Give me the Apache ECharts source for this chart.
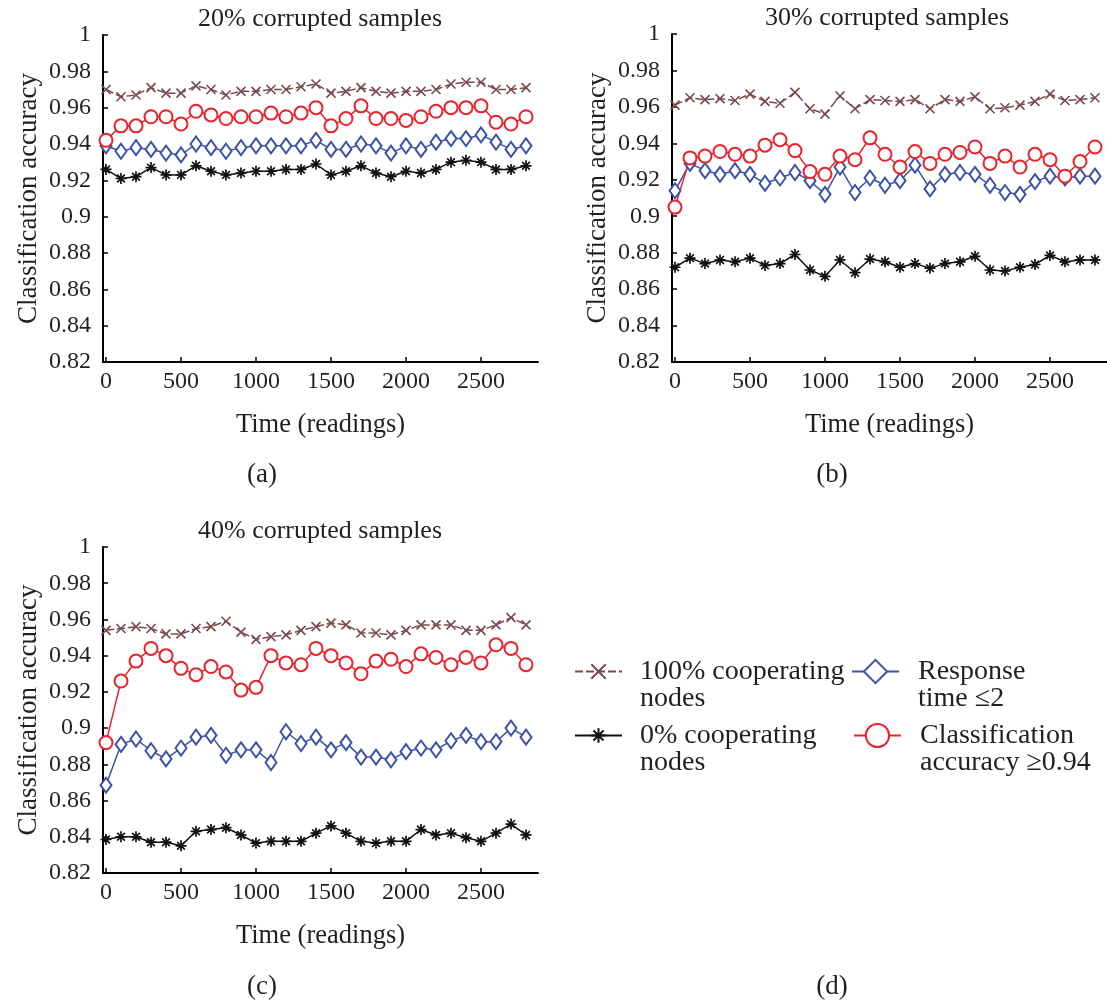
<!DOCTYPE html>
<html><head><meta charset="utf-8">
<script src="https://cdn.jsdelivr.net/npm/echarts@6/dist/echarts.min.js"></script>
<style>html,body{margin:0;padding:0;background:#fff}#c{width:1107px;height:1000px}</style>
</head><body><div id="c"></div>
<script>
const times = [0,100,200,300,400,500,600,700,800,900,1000,1100,1200,1300,1400,1500,1600,1700,1800,1900,2000,2100,2200,2300,2400,2500,2600,2700,2800];
const xTicks = [0,500,1000,1500,2000,2500];
const seriesNames = ['100% cooperating\nnodes','0% cooperating\nnodes','Response\ntime \u22642','Classification\naccuracy \u22650.94'];
const panelTitles = ['20% corrupted samples','30% corrupted samples','40% corrupted samples'];

// (a) 20% corrupted samples
const a_full = [0.970,0.966,0.967,0.971,0.968,0.968,0.972,0.970,0.967,0.969,0.969,0.970,0.970,0.9715,0.973,0.968,0.969,0.971,0.969,0.968,0.969,0.969,0.970,0.973,0.974,0.974,0.970,0.970,0.971];
const a_zero = [0.926,0.921,0.922,0.927,0.923,0.923,0.928,0.925,0.923,0.924,0.925,0.925,0.926,0.926,0.929,0.923,0.925,0.928,0.924,0.922,0.925,0.924,0.926,0.930,0.931,0.930,0.926,0.926,0.928];
const a_resp = [0.939,0.936,0.938,0.937,0.935,0.934,0.940,0.938,0.936,0.938,0.939,0.939,0.939,0.939,0.942,0.937,0.937,0.940,0.939,0.935,0.939,0.937,0.941,0.943,0.943,0.945,0.941,0.937,0.939];
const a_acc  = [0.942,0.950,0.950,0.955,0.955,0.951,0.958,0.956,0.954,0.955,0.955,0.957,0.955,0.957,0.960,0.950,0.954,0.961,0.954,0.954,0.953,0.955,0.958,0.960,0.960,0.961,0.952,0.951,0.955];

// (b) 30% corrupted samples
const b_full = [0.961,0.965,0.964,0.9645,0.9635,0.967,0.963,0.962,0.968,0.959,0.956,0.966,0.959,0.964,0.9635,0.963,0.964,0.959,0.964,0.963,0.9655,0.959,0.9595,0.961,0.963,0.967,0.9635,0.964,0.965];
const b_zero = [0.872,0.877,0.874,0.876,0.875,0.877,0.873,0.874,0.879,0.8705,0.867,0.876,0.869,0.8765,0.875,0.872,0.874,0.8715,0.874,0.875,0.878,0.8705,0.870,0.872,0.8735,0.8785,0.875,0.876,0.876];
const b_resp = [0.914,0.929,0.925,0.923,0.925,0.923,0.918,0.921,0.924,0.9195,0.912,0.927,0.913,0.921,0.917,0.9195,0.928,0.915,0.923,0.924,0.923,0.917,0.913,0.912,0.919,0.922,0.921,0.922,0.922];
const b_acc  = [0.905,0.932,0.933,0.9355,0.934,0.933,0.939,0.942,0.936,0.9245,0.923,0.933,0.931,0.943,0.934,0.927,0.9355,0.929,0.934,0.935,0.938,0.929,0.933,0.927,0.934,0.931,0.922,0.930,0.938];

// (c) 40% corrupted samples
const c_full = [0.954,0.955,0.956,0.955,0.952,0.952,0.955,0.956,0.959,0.953,0.949,0.9505,0.9515,0.954,0.956,0.958,0.957,0.9525,0.9525,0.9515,0.954,0.957,0.957,0.957,0.954,0.954,0.957,0.961,0.957];
const c_zero = [0.8385,0.840,0.840,0.837,0.837,0.835,0.843,0.844,0.845,0.841,0.8365,0.8375,0.8375,0.8375,0.842,0.846,0.842,0.8375,0.8365,0.8375,0.8375,0.844,0.841,0.842,0.8395,0.8375,0.842,0.847,0.841];
const c_resp = [0.8685,0.891,0.894,0.8875,0.883,0.889,0.895,0.896,0.885,0.888,0.888,0.881,0.898,0.8915,0.895,0.888,0.892,0.884,0.884,0.8825,0.887,0.889,0.888,0.893,0.896,0.8925,0.8925,0.900,0.895];
const c_acc  = [0.892,0.926,0.937,0.944,0.940,0.933,0.9295,0.934,0.931,0.921,0.9225,0.940,0.936,0.935,0.944,0.940,0.936,0.930,0.937,0.938,0.934,0.941,0.939,0.935,0.939,0.936,0.946,0.944,0.935];

const FONT = 'Liberation Serif';
const TXT = '#231f20';
const BROWN = '#7b4a4a', BLACK = '#111111', BLUE = '#3b52a6', RED = '#e8232b';
const SYM_X = 'path://M0,0L10,10M10,0L0,10';
const SYM_STAR = 'path://M5,0L5,10M0,5L10,5M1.5,1.5L8.5,8.5M1.5,8.5L8.5,1.5';

const grids = [
  {left:103, top:35, width:435, height:327},
  {left:672, top:34, width:435, height:328},
  {left:103, top:547, width:435, height:326}
];

function xAxisFor(i){
  return {
    gridIndex:i, type:'value', min:-20, max:2880,
    axisLine:{onZero:false, lineStyle:{color:'#000', width:2}},
    axisTick:{inside:true, length:5, customValues:xTicks, lineStyle:{color:'#000', width:1.5}},
    axisLabel:{customValues:xTicks, formatter:v => String(v), fontFamily:FONT, fontSize:24, color:TXT, margin:8},
    splitLine:{show:false},
    name:'Time (readings)', nameLocation:'middle', nameGap:50,
    nameTextStyle:{fontFamily:FONT, fontSize:26.5, color:TXT}
  };
}
function yAxisFor(i){
  return {
    gridIndex:i, type:'value', min:0.82, max:1, interval:0.02,
    axisLine:{show:true, onZero:false, lineStyle:{color:'#000', width:2}},
    axisTick:{show:true, inside:true, length:5, lineStyle:{color:'#000', width:1.5}},
    axisLabel:{fontFamily:FONT, fontSize:24, color:TXT, margin:12},
    splitLine:{show:false},
    name:'Classification accuracy', nameLocation:'middle', nameGap:61,
    nameTextStyle:{fontFamily:FONT, fontSize:27, color:TXT}
  };
}
function pairs(vals){ return times.map((t,k)=>[t, vals[k]]); }
function seriesFor(i, full, zero, resp, acc){
  return [
    {name:seriesNames[0], type:'line', xAxisIndex:i, yAxisIndex:i, data:pairs(full),
     symbol:SYM_X, symbolSize:9, showSymbol:true,
     lineStyle:{color:BROWN, width:1.5, type:[8,3]},
     itemStyle:{color:BROWN, borderColor:BROWN, borderWidth:1.6}},
    {name:seriesNames[1], type:'line', xAxisIndex:i, yAxisIndex:i, data:pairs(zero),
     symbol:SYM_STAR, symbolSize:11,
     lineStyle:{color:BLACK, width:1.5},
     itemStyle:{color:BLACK, borderColor:BLACK, borderWidth:1.7}},
    {name:seriesNames[2], type:'line', xAxisIndex:i, yAxisIndex:i, data:pairs(resp),
     symbol:'emptyDiamond', symbolSize:[11,15],
     lineStyle:{color:BLUE, width:1.5},
     itemStyle:{color:BLUE, borderColor:BLUE, borderWidth:1.6}},
    {name:seriesNames[3], type:'line', xAxisIndex:i, yAxisIndex:i, data:pairs(acc),
     symbol:'emptyCircle', symbolSize:13,
     lineStyle:{color:RED, width:1.5},
     itemStyle:{color:RED, borderColor:RED, borderWidth:1.6}}
  ];
}

function legendFor(name, left, centerY, itemH, textPadLeft){
  return {
    data:[name], left:left, top:centerY-40.5, orient:'vertical', padding:0,
    itemWidth:47, itemHeight:itemH, selectedMode:false,
    formatter: n => ' \n' + n,
    textStyle:{fontFamily:FONT, fontSize:28, lineHeight:27, color:TXT,
      padding:[0,0,0,textPadLeft], backgroundColor:'rgba(255,255,255,0)'}
  };
}

const titleStyle = {fontFamily:FONT, fontSize:26, fontWeight:'normal', color:TXT};
const capStyle = {fontFamily:FONT, fontSize:27, fontWeight:'normal', color:TXT};
const option = {
  animation:false,
  backgroundColor:'#fff',
  title:[
    {text:panelTitles[0], left:315, top:1, textAlign:'center', textStyle:titleStyle},
    {text:panelTitles[1], left:882, top:0, textAlign:'center', textStyle:titleStyle},
    {text:panelTitles[2], left:315, top:513, textAlign:'center', textStyle:titleStyle},
    {text:'(a)', left:257, top:456, textAlign:'center', textStyle:capStyle},
    {text:'(b)', left:827, top:456, textAlign:'center', textStyle:capStyle},
    {text:'(c)', left:257, top:968, textAlign:'center', textStyle:capStyle},
    {text:'(d)', left:827, top:968, textAlign:'center', textStyle:capStyle}
  ],
  legend:[
    legendFor(seriesNames[0], 574, 671, 18, 13),
    legendFor(seriesNames[1], 574, 735, 18, 13),
    legendFor(seriesNames[2], 851, 671, 29, 14),
    legendFor(seriesNames[3], 853, 735, 29, 14)
  ],
  grid:grids,
  xAxis:[xAxisFor(0), xAxisFor(1), xAxisFor(2)],
  yAxis:[yAxisFor(0), yAxisFor(1), yAxisFor(2)],
  series:[].concat(
    seriesFor(0, a_full, a_zero, a_resp, a_acc),
    seriesFor(1, b_full, b_zero, b_resp, b_acc),
    seriesFor(2, c_full, c_zero, c_resp, c_acc)
  )
};
const chart = echarts.init(document.getElementById('c'), null, {renderer:'canvas'});
chart.setOption(option);
</script>
</body></html>
